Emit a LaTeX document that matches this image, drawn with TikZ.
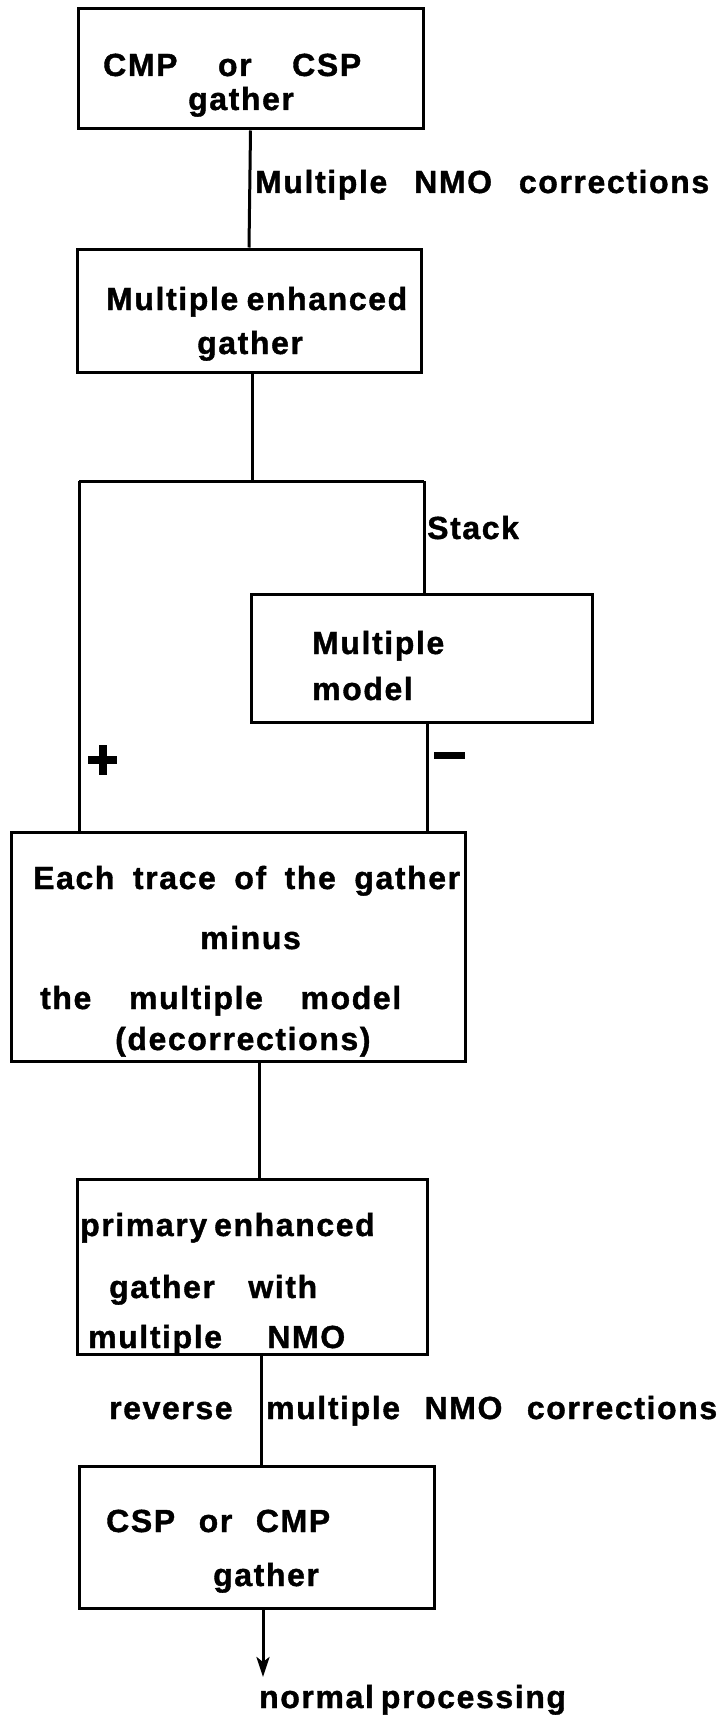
\documentclass[tikz,border=0pt]{standalone}
\usepackage{fontspec}
\newfontfamily\labfont{Liberation Sans Bold}[LetterSpace=5,FakeBold=1.2]
\usetikzlibrary{arrows.meta,calc}
\newcommand{\fitw}[2]{\makebox[#1][s]{#2}}
\begin{document}
\begin{tikzpicture}[x=1pt,y=-1pt,
  box/.style={draw,line width=3pt,minimum width=#1,inner sep=0pt},
  lbl/.style={anchor=base west,inner sep=0pt,font=\labfont\fontsize{32}{38}\selectfont},
  conn/.style={line width=3pt}]
\useasboundingbox[fill=white] (0,0) rectangle (721,1715);
% boxes
\node[box=345pt,minimum height=120pt] (b1) at (250.5,69) {};
\node[box=344pt,minimum height=123pt] (b2) at (249,310.5) {};
\node[box=341pt,minimum height=128pt] (b3) at (421.5,658) {};
\node[box=454pt,minimum height=229pt] (b4) at (238,946.5) {};
\node[box=350pt,minimum height=175pt] (b5) at (252,1266.5) {};
\node[box=355pt,minimum height=142pt] (b6) at (256.5,1537) {};
% texts
\node[lbl] (t1a) at (103,76) {\fitw{258pt}{CMP or CSP}};
\node[lbl] (t1b) at (188,110) {gather};
\node[lbl] (l1) at (255,193) {\fitw{454pt}{Multiple NMO corrections}};
\node[lbl] (t2a) at (106,310) {\fitw{301pt}{Multiple enhanced}};
\node[lbl] (t2b) at (197,354) {gather};
\node[lbl] (l2) at (427,539) {Stack};
\node[lbl] (t3a) at (312,654) {Multiple};
\node[lbl] (t3b) at (312,700) {model};
\node[lbl,anchor=south west] (plus) at (88,775) {\rlap{\raisebox{11pt}{\rule{29pt}{8pt}}}\hspace{10.5pt}\rule{8pt}{30pt}};
\node[lbl,anchor=south west] (minus) at (434,759) {\rule{31pt}{7pt}};
\node[lbl] (t4a) at (33,889) {\fitw{427pt}{Each trace of the gather}};
\node[lbl] (t4b) at (200,949) {minus};
\node[lbl] (t4c) at (40,1009) {\fitw{361pt}{the multiple model}};
\node[lbl] (t4d) at (115,1050) {(decorrections)};
\node[lbl] (t5a) at (80,1236) {\fitw{286pt}{primary enhanced}};
\node[lbl] (t5b) at (109,1298) {\fitw{208pt}{gather with}};
\node[lbl] (t5c) at (88,1348) {\fitw{257pt}{multiple NMO}};
\node[lbl] (l3a) at (109,1419) {reverse};
\node[lbl] (l3b) at (266,1419) {\fitw{451pt}{multiple NMO corrections}};
\node[lbl] (t6a) at (106,1532) {\fitw{224pt}{CSP or CMP}};
\node[lbl] (t6b) at (213,1586) {gather};
\node[lbl] (l4) at (259,1708) {\fitw{288pt}{normal processing}};
% connector coordinates
\coordinate (split) at (252,481);
\coordinate (sl) at (79,481);
\coordinate (sr) at (424,481);
\coordinate (mm) at (427,0);
\coordinate (j4) at (259,0);
\coordinate (j5) at (261,0);
\coordinate (j6) at (263,0);
\coordinate (endp) at (263,1677);
% connectors
\draw[conn] (b1.south) -- (b2.north);
\draw[conn] (b2.south -| split) -- (split);
\draw[conn] (sl) -- (sr);
\draw[conn] (sl) -- (sl |- b4.north);
\draw[conn] (sr) -- (sr |- b3.north);
\draw[conn] (b3.south -| mm) -- (mm |- b4.north);
\draw[conn] (b4.south -| j4) -- (j4 |- b5.north);
\draw[conn] (b5.south -| j5) -- (j5 |- b6.north);
\draw[conn,-{Stealth[length=20pt,width=13pt,inset=5pt]}] (b6.south -| j6) -- (endp);
\end{tikzpicture}
\end{document}
